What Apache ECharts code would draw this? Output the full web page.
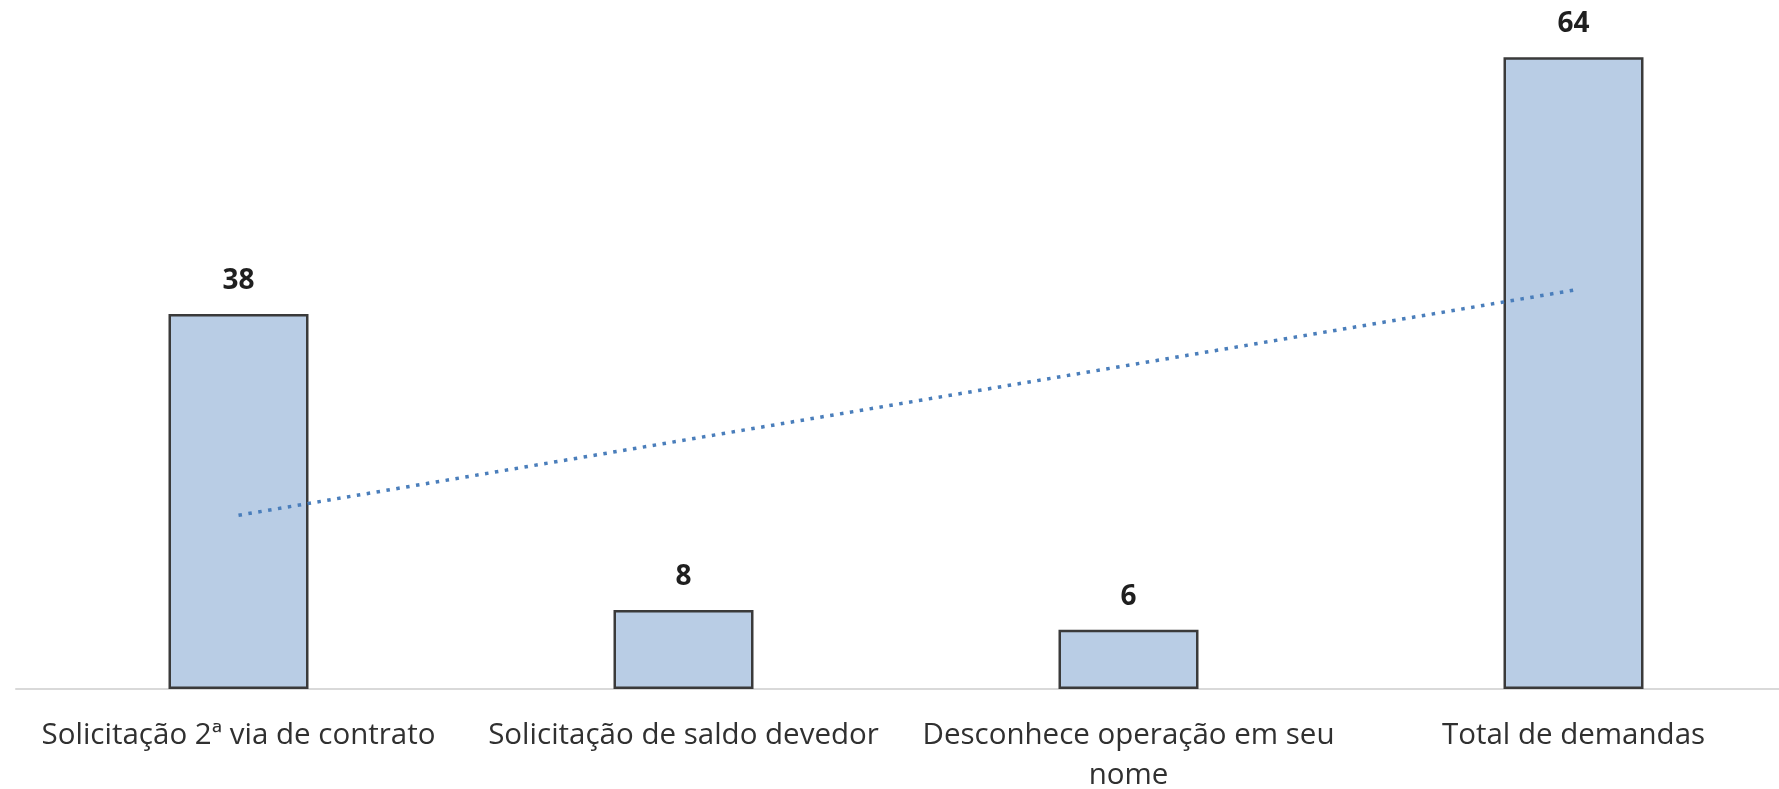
<!DOCTYPE html>
<html>
<head>
<meta charset="utf-8">
<title>Demandas</title>
<script src="https://cdn.jsdelivr.net/npm/echarts@6/dist/echarts.min.js"></script>
<style>
  html, body { margin: 0; padding: 0; background: #ffffff; }
  #chart { width: 1779px; height: 789px; }
</style>
</head>
<body>
<div id="chart"></div>
<script>
// Categories and counts
const categories = [
  'Solicitação 2ª via de contrato',
  'Solicitação de saldo devedor',
  'Desconhece operação em seu\nnome',
  'Total de demandas'
];
const demandCounts = [38, 8, 6, 64];
// Linear trend line values at each category
const trendValues = [17.6, 25.2, 32.8, 40.4];

const chart = echarts.init(document.getElementById('chart'), null, { renderer: 'canvas' });

chart.setOption({
  animation: false,
  backgroundColor: '#ffffff',
  grid: {
    left: 16,
    width: 1780,
    top: -2,
    bottom: 100,
    containLabel: false,
    outerBoundsMode: 'none'
  },
  xAxis: {
    type: 'category',
    data: categories,
    axisLine: { show: true, lineStyle: { color: '#d9d9d9', width: 2 } },
    axisTick: { show: false },
    axisLabel: {
      interval: 0,
      margin: 27,
      color: '#303030',
      fontFamily: 'Open Sans',
      fontSize: 29.5,
      lineHeight: 40
    },
    splitLine: { show: false }
  },
  yAxis: {
    type: 'value',
    min: 0,
    max: 70,
    interval: 10,
    show: false,
    splitLine: { show: false }
  },
  series: [
    {
      name: 'Demandas',
      type: 'bar',
      data: demandCounts,
      barWidth: 140,
      itemStyle: { color: '#b9cde5', borderColor: '#3a3a3a', borderWidth: 2.5 },
      label: {
        show: true,
        position: 'top',
        distance: 19,
        color: '#1f1f1f',
        fontFamily: 'Open Sans',
        fontWeight: 'bold',
        fontSize: 28,
        lineHeight: 28
      },
      z: 2
    },
    {
      name: 'Tendência',
      type: 'line',
      data: trendValues,
      symbol: 'none',
      smooth: false,
      lineStyle: { color: '#4a7ebb', width: 3.5, type: [3.5, 6.5] },
      z: 3
    }
  ]
});
</script>
</body>
</html>
